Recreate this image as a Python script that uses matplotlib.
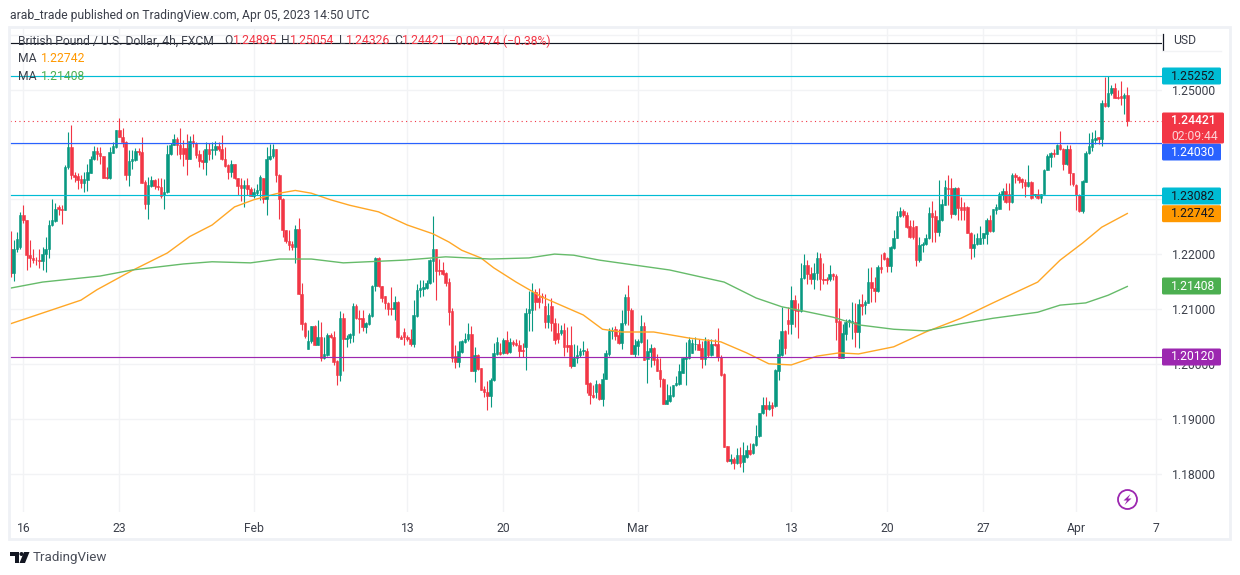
import matplotlib
matplotlib.use("Agg")
import matplotlib.pyplot as plt
from matplotlib.patches import FancyBboxPatch, Rectangle, Circle, Polygon
import numpy as np

# 4h GBP/USD candles, prices in 1/10000
opens = [
    12209,12166,12209,12213,12271,12263,12199,12192,12190,12190,
    12187,12201,12209,12253,12261,12285,12283,12281,12358,12395,
    12344,12342,12337,12330,12335,12348,12373,12388,12384,12379,
    12340,12339,12385,12396,12426,12413,12405,12345,12369,12372,
    12388,12386,12331,12291,12324,12335,12325,12322,12308,12314,
    12382,12399,12410,12399,12393,12393,12374,12406,12403,12382,
    12372,12367,12391,12389,12390,12397,12392,12373,12362,12350,
    12365,12338,12326,12321,12326,12319,12306,12312,12317,12339,
    12300,12373,12378,12391,12344,12300,12244,12224,12218,12213,
    12246,12127,12075,12027,12041,12069,12035,12049,12011,12016,
    12053,12049,12005,11979,12084,12046,12047,12053,12106,12083,
    12083,12068,12073,12087,12141,12193,12142,12123,12111,12101,
    12100,12113,12049,12058,12049,12045,12037,12088,12135,12136,
    12138,12147,12188,12209,12171,12171,12165,12149,12097,12014,
    12004,12022,12039,12045,12055,11987,12016,11992,11954,11949,
    11941,11970,12018,12022,12019,12044,12021,12039,12038,12035,
    12025,12030,12092,12098,12130,12120,12123,12106,12077,12106,
    12074,12057,12057,12062,12035,12035,11996,12010,12016,12024,
    12024,11965,11943,11948,11963,11936,11973,12018,12060,12063,
    12052,12038,12074,12121,12099,12018,12032,12040,12069,12008,
    12022,12028,12008,11989,11973,11927,11933,11941,11961,11964,
    11984,12008,12010,12019,12036,12036,12028,12009,12042,12016,
    12037,12036,12012,11981,11850,11823,11827,11820,11834,11821,
    11831,11843,11837,11852,11868,11910,11925,11917,11925,11923,
    11987,12016,12060,12079,12072,12116,12099,12096,12157,12181,
    12163,12154,12165,12193,12154,12154,12154,12163,12160,12078,
    12011,12055,12076,12076,12076,12058,12109,12107,12111,12149,
    12139,12132,12176,12202,12192,12178,12212,12230,12269,12279,
    12272,12252,12250,12251,12189,12216,12218,12230,12274,12269,
    12241,12262,12290,12321,12321,12273,12321,12285,12285,12285,
    12239,12211,12218,12219,12230,12236,12262,12242,12281,12283,
    12307,12315,12310,12295,12344,12341,12336,12331,12324,12332,
    12307,12309,12303,12310,12354,12377,12385,12383,12399,12391,
    12364,12391,12347,12326,12307,12278,12332,12385,12396,12408,
    12413,12409,12475,12470,12493,12502,12486,12488,12484,12490,
]
closes = [
    12166,12209,12227,12271,12263,12199,12192,12190,12189,12187,
    12201,12209,12253,12262,12283,12282,12281,12358,12395,12344,
    12341,12335,12330,12337,12350,12373,12388,12383,12378,12339,
    12339,12386,12397,12426,12413,12405,12345,12370,12373,12388,
    12386,12330,12291,12326,12335,12324,12322,12306,12314,12382,
    12399,12410,12399,12383,12383,12374,12406,12402,12381,12370,
    12367,12391,12383,12391,12397,12391,12373,12361,12350,12365,
    12338,12324,12321,12326,12318,12306,12314,12317,12340,12300,
    12373,12379,12391,12344,12300,12243,12224,12217,12213,12246,
    12127,12073,12050,12042,12069,12035,12049,12011,12017,12053,
    12049,12004,11979,12084,12045,12047,12055,12106,12083,12082,
    12068,12075,12089,12142,12193,12142,12120,12110,12100,12100,
    12113,12048,12046,12048,12045,12037,12089,12135,12138,12140,
    12148,12190,12209,12170,12170,12164,12147,12095,12011,12004,
    12024,12041,12045,12055,11987,12016,11991,11953,11948,11941,
    11970,12019,12040,12018,12044,12019,12039,12036,12035,12024,
    12024,12092,12100,12130,12112,12112,12121,12077,12089,12074,
    12044,12045,12062,12030,12030,11996,12011,12016,12024,12025,
    11963,11943,11939,11963,11936,11973,12019,12059,12062,12051,
    12038,12074,12121,12098,12018,12034,12041,12069,12007,12023,
    12028,12007,11987,11972,11927,11934,11943,11962,11965,11986,
    12010,12013,12043,12038,12037,12026,12009,12042,12016,12037,
    12034,12012,11979,11849,11823,11827,11820,11834,11820,11834,
    11843,11835,11854,11869,11910,11925,11917,11925,11919,11989,
    12018,12060,12029,12072,12116,12098,12096,12157,12181,12163,
    12154,12165,12193,12154,12153,12152,12163,12160,12076,12011,
    12056,12076,12079,12078,12058,12109,12106,12113,12149,12138,
    12132,12176,12173,12191,12178,12213,12230,12269,12279,12271,
    12250,12231,12231,12189,12216,12219,12230,12274,12267,12241,
    12263,12291,12323,12318,12273,12321,12284,12281,12281,12239,
    12211,12219,12230,12230,12238,12262,12242,12282,12285,12309,
    12315,12295,12295,12344,12341,12335,12332,12324,12332,12303,
    12310,12303,12310,12354,12379,12385,12383,12399,12391,12364,
    12391,12347,12328,12307,12278,12333,12385,12397,12409,12412,
    12409,12476,12470,12493,12502,12485,12484,12484,12490,12442,
]
highs = [
    12242,12226,12241,12276,12289,12263,12226,12210,12195,12210,
    12213,12232,12262,12300,12293,12289,12289,12362,12422,12435,
    12350,12348,12344,12350,12365,12378,12397,12396,12396,12379,
    12359,12396,12405,12427,12448,12429,12407,12390,12390,12393,
    12393,12414,12335,12341,12342,12336,12338,12338,12336,12399,
    12402,12419,12414,12429,12408,12418,12415,12418,12405,12390,
    12390,12405,12402,12404,12406,12405,12417,12396,12365,12372,
    12365,12338,12338,12335,12338,12322,12320,12328,12344,12339,
    12395,12400,12400,12392,12346,12302,12244,12244,12223,12253,
    12266,12147,12077,12062,12069,12071,12079,12077,12049,12057,
    12056,12059,12007,12097,12092,12053,12057,12111,12109,12098,
    12098,12077,12092,12144,12194,12194,12142,12124,12112,12140,
    12123,12114,12053,12065,12053,12063,12117,12146,12153,12153,
    12152,12191,12270,12209,12191,12185,12168,12156,12101,12035,
    12041,12044,12056,12074,12069,12031,12018,11993,11959,11968,
    11974,12038,12049,12038,12047,12059,12047,12044,12045,12044,
    12038,12101,12132,12147,12136,12138,12129,12127,12111,12120,
    12083,12074,12071,12075,12068,12069,12036,12035,12028,12042,
    12028,11966,11962,11971,11965,11983,12025,12065,12068,12069,
    12063,12098,12128,12144,12101,12045,12046,12089,12077,12045,
    12037,12030,12018,12010,11975,11963,11959,11962,11978,11999,
    12012,12040,12049,12046,12048,12045,12042,12049,12045,12045,
    12046,12066,12016,11983,11851,11835,11831,11846,11849,11858,
    11852,11855,11856,11889,11911,11940,11940,11932,11931,11990,
    12046,12104,12062,12103,12141,12126,12110,12183,12200,12189,
    12177,12183,12204,12202,12183,12158,12181,12166,12163,12101,
    12073,12082,12081,12113,12110,12119,12128,12116,12174,12177,
    12158,12180,12200,12204,12195,12214,12244,12278,12285,12283,
    12277,12262,12262,12251,12231,12222,12237,12286,12296,12280,
    12335,12301,12335,12344,12338,12323,12323,12304,12295,12287,
    12241,12236,12239,12251,12239,12265,12271,12283,12291,12314,
    12321,12330,12330,12348,12348,12343,12339,12336,12362,12333,
    12310,12318,12310,12356,12382,12386,12391,12400,12424,12393,
    12399,12399,12348,12327,12309,12335,12388,12420,12423,12426,
    12414,12481,12522,12524,12508,12511,12499,12516,12493,12505,
]
lows = [
    12159,12151,12204,12210,12256,12171,12177,12183,12180,12174,
    12171,12168,12193,12251,12259,12271,12255,12280,12356,12337,
    12332,12319,12320,12314,12315,12347,12372,12372,12364,12338,
    12337,12337,12385,12394,12413,12396,12335,12324,12355,12370,
    12381,12329,12282,12264,12322,12318,12317,12303,12282,12312,
    12381,12398,12381,12373,12361,12345,12373,12396,12376,12359,
    12356,12344,12372,12373,12381,12387,12372,12359,12337,12341,
    12337,12307,12296,12285,12308,12305,12303,12308,12299,12294,
    12271,12372,12376,12332,12264,12231,12220,12207,12207,12184,
    12127,12062,12047,12027,12038,12034,12034,12005,12008,12015,
    12047,11998,11962,11969,11987,12031,12038,12039,12082,12056,
    12059,12057,12071,12086,12132,12140,12112,12100,12089,12089,
    12080,12047,12045,12035,12041,12033,12031,12086,12121,12123,
    12136,12146,12150,12117,12162,12162,12142,12071,12004,11992,
    11995,12019,12038,12041,11986,11966,11989,11952,11940,11916,
    11922,11968,12016,12016,12018,12018,12019,12033,12033,12013,
    12013,11988,12059,12059,12098,12101,12111,12065,12065,12059,
    12036,12038,12053,12014,12022,11993,11996,12001,12013,12016,
    11946,11927,11937,11937,11934,11923,11972,12014,12046,12043,
    12036,12027,12071,12071,12018,12012,12016,12038,12007,11965,
    11995,11998,11986,11957,11926,11926,11931,11940,11959,11962,
    11983,11961,12008,12019,12026,12025,11993,11998,12012,12015,
    12032,12006,11978,11848,11821,11818,11809,11818,11812,11803,
    11829,11834,11835,11850,11867,11908,11905,11916,11905,11922,
    11970,12014,12018,12054,12055,12067,12047,12095,12155,12146,
    12145,12137,12152,12134,12145,12145,12151,12152,12043,12011,
    12011,12044,12067,12046,12031,12028,12089,12090,12110,12112,
    12112,12131,12166,12189,12168,12168,12210,12230,12267,12267,
    12248,12230,12228,12178,12186,12204,12216,12228,12222,12222,
    12233,12261,12289,12289,12266,12272,12263,12263,12262,12238,
    12191,12195,12216,12218,12219,12218,12241,12241,12273,12282,
    12298,12293,12281,12294,12329,12329,12320,12304,12323,12301,
    12304,12301,12293,12309,12353,12359,12377,12382,12390,12353,
    12363,12326,12324,12281,12277,12275,12331,12383,12388,12401,
    12401,12397,12468,12469,12490,12484,12483,12472,12456,12434,
]

# moving averages, read at a handful of bars
ma_orange_idx = [0,22,27,38,49,56,63,70,76,83,89,94,100,106,115,124,132,137,141,147,151,158,166,179,
                 185,191,201,212,222,230,237,244,252,259,265,276,286,297,307,321,328,335,341,349]
ma_orange = [12073,12116,12135,12170,12202,12232,12253,12286,12299,12310,12316,12311,12299,12289,12277,12253,
             12237,12222,12207,12193,12175,12149,12122,12089,12063,12058,12058,12047,12040,12020,12000,11998,
             12014,12020,12018,12031,12058,12083,12111,12149,12189,12220,12249,12274]
ma_green_idx = [0,10,28,38,54,63,75,84,94,104,123,136,150,162,170,176,184,206,216,223,233,241,248,257,
                265,276,286,297,307,321,328,336,343,349]
ma_green = [12138,12149,12160,12171,12182,12186,12184,12191,12191,12184,12189,12195,12191,12193,12200,12198,
            12189,12171,12158,12149,12120,12104,12096,12085,12071,12063,12060,12073,12083,12094,12107,12111,
            12125,12141]

hline_prices = [1.25848, 1.25252, 1.24030, 1.23082, 1.20120]
hline_colors = ["#131722", "#00bcd4", "#2962ff", "#00bcd4", "#9c27b0"]
last_price = 1.24421

# 1.23000 and 1.24000 sit fully under the price badges
y_ticks = [1.18, 1.19, 1.20, 1.21, 1.22, 1.23, 1.24, 1.25, 1.26]
y_labels = ["1.18000", "1.19000", "1.20000", "1.21000", "1.22000", "", "", "1.25000", ""]
x_ticks = [4, 34, 76, 124, 154, 196, 244, 274, 304, 333, 358]
x_labels = ["16", "23", "Feb", "13", "20", "Mar", "13", "20", "27", "Apr", "7"]

badge_text = ["1.25252", "1.24030", "1.23082", "1.22742", "1.21408", "1.20120"]
badge_y = [76, 152, 196, 213.7, 286, 357]
badge_fill = ["#00bcd4", "#2962ff", "#00bcd4", "#ff9800", "#4caf50", "#9c27b0"]
badge_ink = ["#131722", "white", "#131722", "#131722", "white", "white"]

UP = "#089981"
DOWN = "#f23645"
INK = "#3b3f4a"
FONT = "Roboto"
FS = 8.7

plt.rcParams["font.family"] = FONT

o = np.array(opens) / 1e4
c = np.array(closes) / 1e4
h = np.array(highs) / 1e4
l = np.array(lows) / 1e4
idx = np.arange(len(o))
cols = np.where(c >= o, UP, DOWN)

fig = plt.figure(figsize=(12.4, 5.75), dpi=100)
ax = fig.add_axes([10 / 1240, 1 - 512 / 575, 1152 / 1240, 484 / 575])

ax.vlines(idx, l, h, colors=cols, linewidth=0.8, zorder=3)
ax.bar(idx, c - o, bottom=o, width=0.8, color=cols, edgecolor=cols, linewidth=0.4, zorder=3)

ax.plot(ma_orange_idx, np.array(ma_orange) / 1e4, color="#ffa726", linewidth=1.0, zorder=4)
ax.plot(ma_green_idx, np.array(ma_green) / 1e4, color="#66bb6a", linewidth=1.0, zorder=4)

for price, col in zip(hline_prices, hline_colors):
    ax.axhline(price, color=col, linewidth=0.85, zorder=5)
ax.axhline(last_price, color=DOWN, linewidth=0.8, linestyle=(0, (1, 3)), zorder=2)

ax.set_xlim(-0.16, 359.84)
ax.set_ylim(1.17299, 1.26121)
ax.set_xticks(x_ticks, x_labels)
ax.yaxis.tick_right()
ax.set_yticks(y_ticks, y_labels)
ax.tick_params(axis="both", length=0, labelsize=FS, labelcolor=INK)
ax.tick_params(axis="x", pad=7)
ax.tick_params(axis="y", pad=7)
ax.grid(True, color="#f2f3f5", linewidth=1.0)
ax.set_axisbelow(True)
for side in ax.spines.values():
    side.set_visible(False)

# overlay in pixel coordinates for the chrome around the chart
ov = fig.add_axes([0, 0, 1, 1], zorder=10)
ov.set_xlim(0, 1240)
ov.set_ylim(575, 0)
ov.axis("off")
ov.patch.set_alpha(0)

ov.add_patch(Rectangle((9, 27), 1221, 512, fill=False, edgecolor="#eff1f5", linewidth=2))
ov.plot([1162.5, 1162.5], [34, 50], color="#131722", linewidth=0.9)
ov.plot([1162, 1221], [50.5, 50.5], color="#f2f3f5", linewidth=1)


def label(x, y, s, color=INK, size=FS, **kw):
    ov.text(x, y, s, color=color, fontsize=size, va="center", ha=kw.pop("ha", "left"), **kw)


def badge(y, height, fill, right=1221):
    ov.add_patch(FancyBboxPatch((1162, y - height / 2), right - 1162, height,
                                boxstyle="round,pad=0,rounding_size=1.5",
                                facecolor=fill, edgecolor="none", zorder=6))


label(10, 15, "arab_trade published on TradingView.com, Apr 05, 2023 14:50 UTC")
label(18, 41, "British Pound / U.S. Dollar, 4h, FXCM")
for x, s in [(224, "O"), (281.5, "H"), (339, "L"), (394.5, "C")]:
    label(x, 41, s)
for x, s in [(233, "1.24895"), (290, "1.25054"), (345.5, "1.24326"), (402, "1.24421"), (449, "\u22120.00474 (\u22120.38%)")]:
    label(x, 41, s, color=DOWN)
label(18, 59, "MA")
label(41, 59, "1.22742", color="#ff9800")
label(18, 77, "MA")
label(41, 77, "1.21408", color="#4caf50")
label(1173, 41, "USD")

for s, y, fill, ink in zip(badge_text, badge_y, badge_fill, badge_ink):
    badge(y, 17, fill)
    ov.text(1193, y, s, color=ink, fontsize=FS, ha="center", va="center", zorder=7)
badge(128, 31, DOWN, right=1224)
ov.text(1193, 121, "1.24421", color="white", fontsize=FS, ha="center", va="center", zorder=7, fontweight="medium")
ov.text(1195, 136, "02:09:44", color="#fcd3d7", fontsize=FS, ha="center", va="center", zorder=7)

# lightning badge
ov.add_patch(Circle((1127.5, 499.5), 9.5, fill=False, edgecolor="#9c27b0", linewidth=1.3))
ov.add_patch(Polygon([(1130.5, 494), (1123.5, 500.5), (1127, 500.5), (1124.5, 505), (1131.5, 498.5), (1128, 498.5)],
                     closed=True, facecolor="#9c27b0", edgecolor="none"))

# TradingView logo
ov.add_patch(Polygon([(10, 552), (19, 552), (19, 563), (14.5, 563), (14.5, 556), (10, 556)], closed=True, facecolor="#131722", edgecolor="none"))
ov.add_patch(Circle((21.5, 554), 2, facecolor="#131722", edgecolor="none"))
ov.add_patch(Polygon([(24, 552), (29.5, 552), (25, 563), (19.5, 563)], closed=True, facecolor="#131722", edgecolor="none"))
label(33, 557.5, "TradingView", size=9.6, color="#4a4e59")

fig.savefig("out.png", dpi=100, facecolor="white")
plt.close(fig)
